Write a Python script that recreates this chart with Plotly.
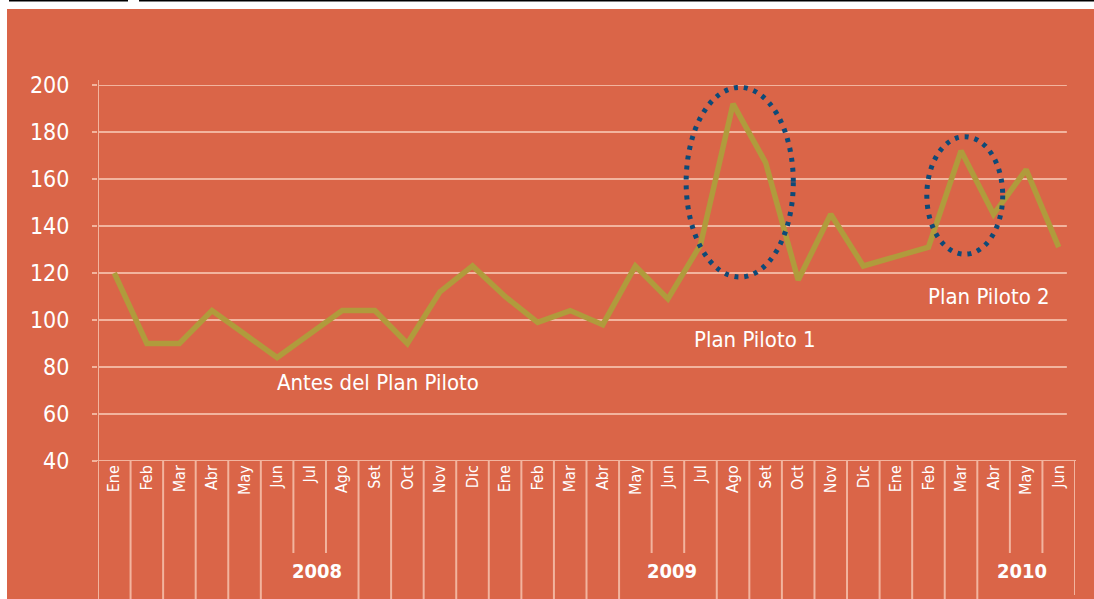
import plotly.graph_objects as go

# ---------------- data ----------------
months = ["Ene", "Feb", "Mar", "Abr", "May", "Jun", "Jul", "Ago", "Set", "Oct", "Nov", "Dic",
          "Ene", "Feb", "Mar", "Abr", "May", "Jun", "Jul", "Ago", "Set", "Oct", "Nov", "Dic",
          "Ene", "Feb", "Mar", "Abr", "May", "Jun"]
values = [120, 90, 90, 104, 94, 84, 94, 104, 104, 90, 112, 123,
          110, 99, 104, 98, 123, 109, 132, 192, 167, 117, 145, 123,
          127, 131, 172, 145, 164, 131]
years = ["2008", "2009", "2010"]
year_pos = [6.21, 17.14, 27.86]
year_short_bounds = [6, 7, 17, 18, 28, 29]
yticks = [40, 60, 80, 100, 120, 140, 160, 180, 200]
notes = ["Antes del Plan Piloto", "Plan Piloto 1", "Plan Piloto 2"]
note_x = [8.1, 19.67, 26.86]
note_y = [73.2, 91.9, 109.8]
ellipses = [(17.56, 20.85, 118.3, 199.0), (24.95, 27.28, 128.0, 178.0)]

# ---------------- style ----------------
BG = "#DA6548"
GRID = "#F2B49E"
LINE = "#B09B3C"
NAVY = "#0D4A78"
FONT = "DejaVu Sans Condensed, Liberation Sans Narrow, Roboto, sans-serif"

W, H = 1094, 599
ML, MR, MT, MB = 98, 19, 85, 138
PH = H - MT - MB
PW = W - ML - MR
n = len(months)
x = list(range(n))

fig = go.Figure()
fig.add_trace(go.Scatter(x=x, y=values, mode="lines",
                         line=dict(color=LINE, width=5.5), hoverinfo="skip",
                         showlegend=False))

shapes = []
# white strips and black rules at top-left
shapes.append(dict(type="rect", xref="paper", yref="paper",
                   x0=-ML / PW - 0.01, x1=(7 - ML) / PW, y0=-1, y1=2,
                   fillcolor="white", line_width=0, layer="below"))
shapes.append(dict(type="rect", xref="paper", yref="paper",
                   x0=-0.2, x1=1.1, y0=(H - MB - 9) / PH, y1=2,
                   fillcolor="white", line_width=0, layer="below"))
shapes.append(dict(type="line", xref="paper", yref="paper",
                   x0=(9 - ML) / PW, x1=(128 - ML) / PW,
                   y0=(H - MB - 0.5) / PH, y1=(H - MB - 0.5) / PH,
                   line=dict(color="black", width=2)))
shapes.append(dict(type="line", xref="paper", yref="paper",
                   x0=(139 - ML) / PW, x1=1.1,
                   y0=(H - MB - 0.5) / PH, y1=(H - MB - 0.5) / PH,
                   line=dict(color="black", width=2)))

# horizontal gridlines
for v in yticks[1:]:
    shapes.append(dict(type="line", xref="x", yref="y", x0=-0.5, x1=29.25, y0=v, y1=v,
                       line=dict(color=GRID, width=2), layer="below"))
# y axis line
shapes.append(dict(type="line", xref="x", yref="paper", x0=-0.5, x1=-0.5,
                   y0=-MB / PH - 0.01, y1=1 + 5 / PH,
                   line=dict(color=GRID, width=2), layer="below"))
# x axis line
shapes.append(dict(type="line", xref="paper", yref="y", x0=(93 - ML) / PW, x1=(1076 - ML) / PW,
                   y0=40, y1=40, line=dict(color=GRID, width=2), layer="below"))
# vertical category separators
for b in range(1, n + 1):
    bottom = (461 - 553) / PH if b in year_short_bounds else -MB / PH - 0.01
    if b == n:
        bottom = (461 - 595) / PH
    shapes.append(dict(type="line", xref="x", yref="paper", x0=b - 0.5, x1=b - 0.5,
                       y0=bottom, y1=0, line=dict(color=GRID, width=2), layer="below"))
# dotted ellipses
for (x0, x1, y0, y1) in ellipses:
    shapes.append(dict(type="circle", xref="x", yref="y", x0=x0, x1=x1, y0=y0, y1=y1,
                       line=dict(color=NAVY, width=5, dash="4px,6px"), layer="above"))

annotations = []
for t, xp in zip(years, year_pos):
    annotations.append(dict(x=xp, xref="x", y=(461 - 571) / PH, yref="paper",
                            text="<b>" + t + "</b>", showarrow=False,
                            font=dict(family=FONT, size=20, color="white"),
                            xanchor="center", yanchor="middle"))
for t, xp, yp in zip(notes, note_x, note_y):
    annotations.append(dict(x=xp, xref="x", y=yp, yref="y", text=t, showarrow=False,
                            font=dict(family=FONT, size=22, color="white"),
                            xanchor="center", yanchor="middle"))

fig.update_layout(
    width=W, height=H,
    margin=dict(l=ML, r=MR, t=MT, b=MB),
    paper_bgcolor=BG, plot_bgcolor=BG,
    shapes=shapes, annotations=annotations,
    xaxis=dict(range=[-0.5, n - 0.5], tickmode="array", tickvals=x, ticktext=months,
               tickangle=-90, showgrid=False, zeroline=False, showline=False,
               ticks="", tickfont=dict(family=FONT, size=16, color="white")),
    yaxis=dict(range=[40, 200], tickmode="array", tickvals=yticks,
               showgrid=False, zeroline=False, showline=False,
               ticks="outside", ticklen=5, tickwidth=2, tickcolor=GRID,
               ticklabelstandoff=18,
               tickfont=dict(family=FONT, size=23, color="white")),
    font=dict(family=FONT, color="white"),
)

fig.write_html("out.html")
